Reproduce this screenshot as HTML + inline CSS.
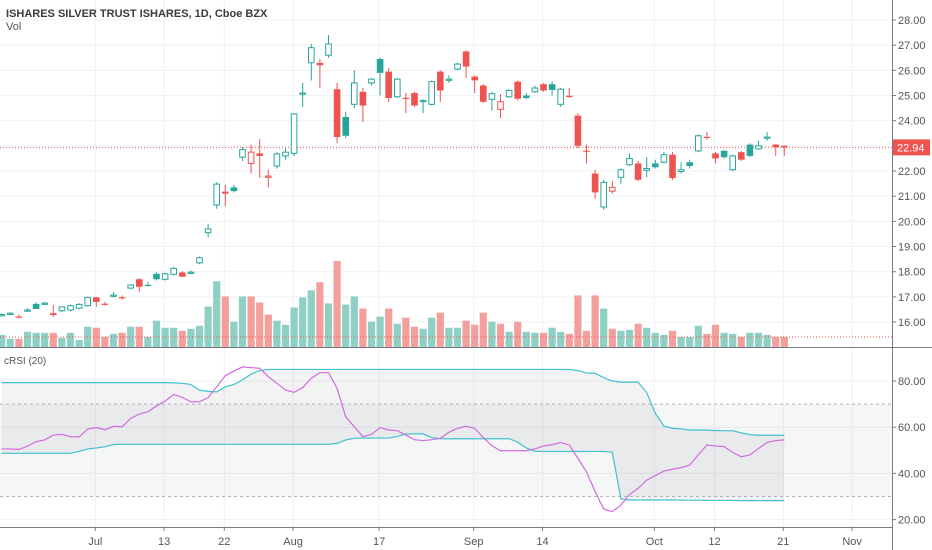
<!DOCTYPE html>
<html><head><meta charset="utf-8"><style>
body{margin:0;background:#fff;}
svg{display:block;font-family:"Liberation Sans",sans-serif;}
</style></head><body>
<svg id="c" width="932" height="550">
<rect x="0" y="0" width="932" height="550" fill="#fff"/>
<g id="grid"></g>
<g id="rsibg"></g>
<g id="vol"></g>
<g id="candles"></g>
<g id="rsi"></g>
<g id="axes"></g>
<text x="6" y="17" font-size="11" font-weight="bold" fill="#3a3a3a">ISHARES SILVER TRUST ISHARES, 1D, Cboe BZX</text>
<text x="6" y="30" font-size="11" fill="#555">Vol</text>
<text x="4" y="364" font-size="10" fill="#555">cRSI (20)</text>
</svg>
<script>
const opens=[16.25,16.33,16.22,16.45,16.72,16.74,16.35,16.45,16.48,16.55,16.65,16.98,16.73,17.05,16.99,17.35,17.70,17.48,17.92,17.70,17.90,17.97,17.97,18.35,19.55,20.65,21.18,21.35,22.55,22.30,22.70,21.75,22.20,22.60,22.70,25.08,26.30,26.30,26.60,25.25,24.15,24.65,25.15,25.50,26.45,25.95,24.95,24.91,25.10,24.79,24.65,25.95,25.64,26.05,26.75,25.75,25.40,24.85,24.45,24.95,25.55,25.00,25.15,25.45,25.45,24.65,24.99,24.20,22.81,21.90,20.57,21.20,21.75,22.25,22.30,22.03,22.30,22.35,22.65,21.98,22.35,22.80,23.36,22.70,22.80,22.05,22.75,23.05,22.88,23.34,23.05,23.00];
const highs=[16.35,16.40,16.30,16.55,16.78,16.80,16.68,16.62,16.70,16.75,17.00,17.00,16.80,17.20,17.05,17.50,17.75,17.60,17.98,17.95,18.20,18.02,18.05,18.60,19.90,21.55,21.45,21.45,22.95,23.05,23.27,22.05,22.75,22.90,24.30,25.50,27.05,26.45,27.40,25.50,24.35,26.00,25.30,25.70,26.50,26.10,25.70,25.10,25.15,24.85,25.60,26.00,25.80,26.30,26.80,25.80,25.45,25.15,25.05,25.25,25.60,25.10,25.40,25.50,25.55,25.30,25.30,24.30,23.05,22.05,21.65,21.60,22.10,22.70,22.40,22.55,22.45,22.75,22.75,22.35,22.45,23.45,23.55,22.75,22.85,22.65,22.80,23.10,23.20,23.55,23.07,23.02];
const lows=[16.20,16.28,16.15,16.40,16.52,16.68,16.20,16.40,16.42,16.50,16.62,16.60,16.65,16.98,16.90,17.30,17.20,17.40,17.65,17.65,17.85,17.78,17.90,18.30,19.35,20.50,20.60,21.15,22.40,21.90,21.72,21.35,22.10,22.45,22.60,24.55,25.60,25.30,26.50,23.10,23.30,24.50,23.95,25.40,25.00,24.75,24.90,24.30,24.55,24.30,24.60,24.75,25.50,26.00,25.70,25.10,24.70,24.40,24.10,24.90,24.80,24.85,25.10,25.15,25.00,24.55,24.90,22.90,22.30,20.90,20.45,21.10,21.50,22.20,21.60,21.75,22.10,22.30,21.65,21.90,22.10,22.75,23.25,22.30,22.50,22.00,22.40,22.55,22.85,23.20,22.60,22.60];
const closes=[16.30,16.35,16.20,16.48,16.52,16.75,16.28,16.60,16.65,16.70,16.98,16.80,16.72,17.07,16.98,17.47,17.40,17.47,17.70,17.92,18.13,17.80,17.98,18.55,19.70,21.48,21.10,21.20,22.85,22.75,22.60,21.80,22.68,22.75,24.27,25.10,26.90,26.20,27.05,23.35,23.40,25.50,24.60,25.65,25.90,24.90,25.65,24.90,24.60,24.80,25.55,25.20,25.65,26.25,26.15,25.60,24.75,25.07,24.75,25.20,24.87,24.90,25.30,25.20,25.22,25.25,24.98,23.00,22.80,21.15,21.55,21.35,22.05,22.50,21.65,22.10,22.15,22.65,21.72,22.05,22.20,23.40,23.35,22.50,22.55,22.60,22.45,22.60,23.00,23.35,22.95,22.94];
const volumes=[12,8,8,15,14,14,14,9,14,7,20,19,10,13,14,20,20,10,26,19,19,16,18,21,40,65,50,25,50,50,44,32,26,22,39,49,56,64,43,85,42,50,38,25,30,38,23,29,20,18,29,34,19,19,26,22,34,25,23,15,25,15,14,14,19,15,13,51,16,51,38,18,16,17,23,19,14,12,16,10,10,21,13,22,14,13,10,14,14,12,10,10];
const crsi=[50.6,50.6,50.4,51.8,53.7,54.5,56.6,56.9,55.9,55.8,59.2,59.8,58.9,60.4,60.2,63.8,65.7,66.7,69.2,71.3,74.2,72.9,71.0,71.0,72.8,77.5,82.3,84.3,86.1,85.8,85.5,81.9,79.0,76.1,75.1,77.1,81.2,83.6,83.6,76.8,64.5,60.2,55.9,56.9,59.8,58.8,58.5,56.6,54.6,54.2,54.6,55.2,57.8,59.5,60.4,59.5,55.5,52.0,49.8,49.8,49.8,49.8,50.6,51.9,52.4,53.4,52.3,46.5,40.7,32.1,24.6,23.4,26.3,30.9,33.5,37.1,39.0,41.0,41.8,42.5,43.6,48.0,52.3,51.9,51.6,49.1,47.2,48.0,50.8,53.4,54.2,54.5];
const upperBand=[79.3,79.3,79.3,79.3,79.3,79.3,79.3,79.3,79.3,79.3,79.3,79.3,79.3,79.3,79.3,79.3,79.3,79.3,79.3,79.3,79.2,79.0,78.5,76.0,75.5,75.3,77.5,78.5,80.5,83.0,84.5,85,85,85,85,85,85,85,85,85,85,85,85,85,85,85,85,85,85,85,85,85,85,85,85,85,85,85,85,85,85,85,85,85,85,85,85,84.5,83.5,83.3,81.5,80.0,79.5,79.5,79.5,75.0,66.0,60.5,59.5,59.3,58.8,58.8,58.8,58.5,58.5,58.5,57.5,56.8,56.5,56.5,56.5,56.5];
const lowerBand=[48.7,48.7,48.7,48.7,48.7,48.7,48.7,48.7,48.7,49.5,50.6,51.0,51.5,52.5,52.6,52.6,52.6,52.6,52.6,52.6,52.6,52.6,52.6,52.6,52.6,52.6,52.6,52.6,52.6,52.6,52.6,52.6,52.6,52.6,52.6,52.6,52.6,52.6,52.6,53.0,54.5,55.2,55.3,55.3,55.3,55.3,56.0,57.1,57.1,57.1,55.5,55.0,55.0,55.0,55.0,55.0,55.0,55.0,55.0,55.0,53.5,51.0,49.5,49.5,49.5,49.5,49.5,49.5,49.5,49.5,49.5,49.2,29.0,28.5,28.5,28.5,28.5,28.5,28.5,28.4,28.4,28.4,28.3,28.3,28.3,28.3,28.2,28.2,28.2,28.2,28.2,28.2];
const priceTicks=["28.00","27.00","26.00","25.00","24.00","23.00","22.00","21.00","20.00","19.00","18.00","17.00","16.00"];
const rsiTicks=["80.00","60.00","40.00","20.00"];
const dateLabels=["Jul","13","22","Aug","17","Sep","14","Oct","12","21","Nov"];
const dateIdx=[11,19,26,34,44,55,63,76,83,91,99];
const lastPrice=22.94;

const NS="http://www.w3.org/2000/svg";
function mk(tag,attrs,parent){const e=document.createElementNS(NS,tag);for(const k in attrs)e.setAttribute(k,attrs[k]);parent.appendChild(e);return e;}
const X=i=>1.7+8.6*i;
const Y=p=>20+(28-p)*25.17;
const RY=v=>381+(80-v)*2.31;
const volMax=Math.max(...volumes);
const VY=v=>347-v/volMax*86;
const UP="#26a69a",DN="#ef5350";
const g=id=>document.getElementById(id);

// grid
const grid=g('grid');
priceTicks.forEach(t=>{const y=Y(+t);
 const l=mk('line',{x1:0,x2:892,y1:y,y2:y,stroke:'#eef0f3','stroke-width':1},grid);
 
 });
rsiTicks.forEach(t=>{const y=RY(+t);
 const l=mk('line',{x1:0,x2:892,y1:y,y2:y,stroke:'#eef0f3','stroke-width':1},grid);
 
 });
dateIdx.forEach(i=>{const x=X(i)-1;
 const l=mk('line',{x1:x,x2:x,y1:0,y2:527,stroke:'#eef0f3','stroke-width':1},grid);
 
 });

// rsi background
const rb=g('rsibg');
const zone=mk('rect',{x:0,y:RY(70),width:892,height:RY(30)-RY(70),fill:'rgba(120,123,134,0.07)'},rb);


let bp='';upperBand.forEach((v,i)=>bp+=(i?'L':'M')+X(i)+','+RY(v));
for(let i=lowerBand.length-1;i>=0;i--)bp+='L'+X(i)+','+RY(lowerBand[i]);
const bf=mk('path',{d:bp+'Z',fill:'rgba(120,123,134,0.09)'},rb);


[70,30].forEach(v=>{const l=mk('line',{x1:0,x2:892,y1:RY(v),y2:RY(v),stroke:'#b0b3bb','stroke-dasharray':'3,3','stroke-width':1},rb);
 
 });

// volume
const vg=g('vol');
volumes.forEach((v,i)=>{const c=i>0&&closes[i]<closes[i-1]?'#f3a09c':'#8fd0c4';
 const r=mk('rect',{x:X(i)-3.6,y:VY(v),width:7.2,height:347-VY(v),fill:c},vg);
 
 });
const vl=mk('line',{x1:0,x2:892,y1:337,y2:337,stroke:'#ef5350','stroke-dasharray':'1,2','stroke-width':1},vg);



// last price line
const pl=mk('line',{x1:0,x2:892,y1:Y(lastPrice),y2:Y(lastPrice),stroke:'#ef5350','stroke-dasharray':'1,2','stroke-width':1},vg);



// candles
const cg=g('candles');
opens.forEach((o,i)=>{const c=closes[i],h=highs[i],l=lows[i];
 const col=(i===0||c>=closes[i-1])?UP:DN;
 const grp=mk('g',{},cg);
 
 
 const x=X(i);
 const top=Math.min(Y(o),Y(c)),bot=Math.max(Y(o),Y(c));
 mk('line',{x1:x,x2:x,y1:Y(h),y2:top,stroke:col,'stroke-width':1},grp);
 mk('line',{x1:x,x2:x,y1:bot,y2:Y(l),stroke:col,'stroke-width':1},grp);
 const hgt=Math.max(bot-top,1.2);
 if(c>o) mk('rect',{x:x-2.8,y:top,width:5.6,height:hgt,fill:'#fff',stroke:col,'stroke-width':1},grp);
 else mk('rect',{x:x-3.3,y:top,width:6.6,height:hgt,fill:col},grp);
});

// rsi lines
const rg=g('rsi');
function line(arr,col,name){let d='';arr.forEach((v,i)=>d+=(i?'L':'M')+X(i)+','+RY(v));
 const p=mk('path',{d:d,fill:'none',stroke:col,'stroke-width':1.2},rg);
 
 }
line(upperBand,'#3fc1cf','upper-band-line');
line(lowerBand,'#3fc1cf','lower-band-line');
line(crsi,'#d26bdf','crsi-line');

// axes
const ax=g('axes');
mk('line',{x1:892.5,x2:892.5,y1:0,y2:550,stroke:'#787b86','stroke-width':1},ax);
mk('line',{x1:0,x2:932,y1:347.5,y2:347.5,stroke:'#787b86','stroke-width':1},ax);
mk('line',{x1:0,x2:893,y1:527.5,y2:527.5,stroke:'#787b86','stroke-width':1},ax);
priceTicks.forEach(t=>{const y=Y(+t);
 mk('line',{x1:892,x2:896,y1:y,y2:y,stroke:'#787b86'},ax);
 const tx=mk('text',{x:898,y:y+4,'font-size':11,fill:'#555'},ax);tx.textContent=t;
 
 });
rsiTicks.forEach(t=>{const y=RY(+t);
 mk('line',{x1:892,x2:896,y1:y,y2:y,stroke:'#787b86'},ax);
 const tx=mk('text',{x:898,y:y+4,'font-size':11,fill:'#555'},ax);tx.textContent=t;
 
 });
dateLabels.forEach((t,k)=>{const x=X(dateIdx[k])-1;
 mk('line',{x1:x,x2:x,y1:527,y2:531,stroke:'#787b86'},ax);
 const tx=mk('text',{x:x,y:545,'font-size':11,fill:'#555','text-anchor':'middle'},ax);tx.textContent=t;
 
 });
const lb=mk('rect',{x:893,y:Y(lastPrice)-8,width:37,height:16,fill:'#ef5350'},ax);


const lt=mk('text',{x:897,y:Y(lastPrice)+4,'font-size':11,fill:'#fff'},ax);lt.textContent=lastPrice.toFixed(2);


</script>
</body></html>
